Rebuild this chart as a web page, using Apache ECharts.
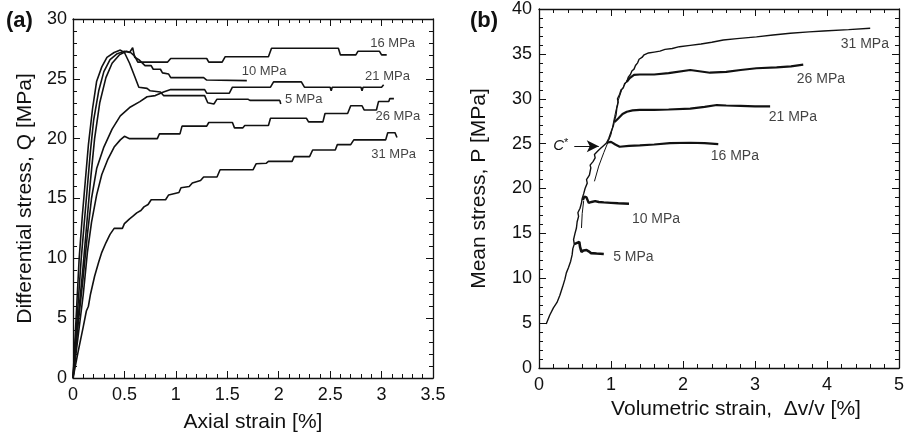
<!DOCTYPE html>
<html>
<head>
<meta charset="utf-8">
<script src="https://cdn.jsdelivr.net/npm/echarts@6/dist/echarts.min.js"></script>
<style>
  html, body { margin: 0; padding: 0; background: #fff; }
  #chart { width: 908px; height: 441px; }
</style>
</head>
<body>
<div id="chart"></div>
<script>
// ---- panel (a): axial strain [%] vs differential stress Q [MPa]
const a5 = [[0,0],[0.03,5],[0.06,10],[0.09,13.5],[0.12,16.5],[0.15,19.5],[0.19,22.5],[0.23,24.8],[0.28,26],[0.33,26.8],[0.4,27.2],[0.46,27.4],[0.5,27.2],[0.55,26.3],[0.6,25.2],[0.64,24.3],[0.72,24.2],[0.75,24.0],[0.85,23.9],[0.88,23.6],[1.28,23.6],[1.31,23.0],[1.37,22.9],[1.4,23.3],[1.7,23.3],[1.72,23.2],[2.01,23.2],[2.02,22.9]];
const a10 = [[0,0],[0.04,5],[0.08,10],[0.11,13],[0.14,16],[0.17,19],[0.2,21.5],[0.25,24],[0.3,25.6],[0.36,26.6],[0.43,27.1],[0.5,27.3],[0.55,27.2],[0.58,27.6],[0.6,26.8],[0.64,26.6],[0.7,26.1],[0.76,26.1],[0.78,25.8],[0.85,25.8],[0.87,25.5],[0.93,25.4],[0.95,25.1],[1.27,25.1],[1.3,24.9],[1.69,24.85]];
const a16 = [[0,0],[0.05,5],[0.1,9.5],[0.14,13.5],[0.17,16.5],[0.21,20],[0.26,23],[0.32,25.1],[0.38,26.3],[0.45,27],[0.52,27.3],[0.56,27.2],[0.6,26.9],[0.63,26.4],[0.92,26.4],[0.95,26.7],[1.3,26.7],[1.32,26.4],[1.45,26.4],[1.48,26.85],[1.9,26.85],[1.93,27.55],[2.58,27.55],[2.6,27.0],[2.75,27.0],[2.77,27.3],[2.98,27.3],[3.0,27.0],[3.05,27.0]];
const a21 = [[0,0],[0.05,4.5],[0.1,8.5],[0.14,12],[0.18,15],[0.23,17.5],[0.3,19.3],[0.38,20.8],[0.46,21.9],[0.55,22.6],[0.65,23.1],[0.72,23.5],[0.8,23.6],[0.88,23.9],[0.95,24.1],[1.28,24.1],[1.3,23.8],[1.52,23.8],[1.55,24.3],[1.92,24.3],[1.95,24.75],[2.22,24.75],[2.25,24.3],[2.5,24.3],[2.51,24.0],[2.52,24.3],[2.8,24.3],[2.81,24.0],[2.82,24.3],[3.0,24.3],[3.02,24.5]];
const a26 = [[0,0],[0.05,3.5],[0.1,7],[0.14,10.5],[0.18,13],[0.23,15.3],[0.28,17],[0.34,18.3],[0.4,19.3],[0.46,19.9],[0.5,20.2],[0.55,20.0],[0.82,20.0],[0.84,20.4],[1.04,20.4],[1.06,21.05],[1.3,21.05],[1.32,21.35],[1.55,21.35],[1.57,20.9],[1.65,20.9],[1.67,21.1],[1.9,21.1],[1.92,21.7],[2.27,21.7],[2.29,21.4],[2.43,21.4],[2.45,22.1],[2.67,22.1],[2.7,22.75],[2.81,22.75],[2.83,22.4],[2.95,22.4],[2.97,23.1],[3.07,23.1],[3.08,23.35],[3.12,23.35]];
const a31 = [[0,0],[0.05,2.2],[0.1,4.3],[0.13,5.6],[0.15,6],[0.17,7],[0.21,8.5],[0.25,9.7],[0.28,10.5],[0.32,11.3],[0.36,12],[0.4,12.5],[0.48,12.5],[0.5,12.9],[0.55,13.3],[0.58,13.5],[0.62,13.8],[0.66,14],[0.69,14.3],[0.73,14.5],[0.76,14.9],[0.9,14.9],[0.93,15.3],[1.03,15.5],[1.05,15.9],[1.13,16],[1.16,16.3],[1.24,16.5],[1.27,16.8],[1.4,16.8],[1.43,17.4],[1.75,17.4],[1.78,17.9],[1.88,17.95],[1.9,18.1],[2.13,18.1],[2.15,18.5],[2.3,18.5],[2.33,19.05],[2.55,19.05],[2.57,19.5],[2.7,19.5],[2.73,19.9],[3.04,19.9],[3.06,20.5],[3.13,20.5],[3.14,20.6],[3.15,20.1]];
const aLabels = [[2.89,27.96,'16 MPa'],[1.64,25.6,'10 MPa'],[2.84,25.2,'21 MPa'],[2.06,23.3,'5 MPa'],[2.94,21.9,'26 MPa'],[2.9,18.7,'31 MPa']];

// ---- panel (b): volumetric strain [%] vs mean stress P [MPa]
const bLoad = [[0.1,4.9],[0.15,5.9],[0.2,6.7],[0.25,7.3],[0.29,8.1],[0.33,9.1],[0.36,9.9],[0.38,10.6],[0.41,11.2],[0.42,11.0],[0.44,11.9],[0.46,12.6],[0.47,13.3],[0.49,13.8],[0.48,14.3],[0.5,15.0],[0.52,15.6],[0.53,16.3],[0.55,16.9],[0.54,17.3],[0.57,17.8],[0.59,18.4],[0.6,18.9],[0.62,19.4],[0.64,20.0],[0.67,20.6],[0.66,21.0],[0.7,21.5],[0.72,22.3],[0.71,22.6],[0.75,23.0],[0.78,23.4],[0.77,23.8],[0.82,24.2],[0.86,24.5],[0.9,24.8],[0.94,25.1],[0.97,25.6],[1.0,26.3],[1.03,26.9],[1.05,27.6],[1.07,28.2],[1.08,28.9],[1.1,29.6],[1.09,30.0],[1.12,30.5],[1.14,31.0],[1.17,31.2],[1.19,31.7],[1.22,31.9],[1.24,32.4],[1.27,32.7],[1.29,33.1],[1.32,33.3],[1.34,33.7],[1.37,34.0],[1.39,34.4],[1.43,34.6],[1.46,34.9],[1.52,35.1],[1.6,35.2],[1.68,35.3],[1.75,35.5],[1.85,35.6],[1.95,35.8],[2.1,35.95],[2.25,36.1],[2.4,36.3],[2.56,36.55],[2.75,36.7],[3.02,36.9],[3.25,37.1],[3.49,37.3],[3.75,37.45],[3.95,37.55],[4.3,37.7],[4.6,37.85]];
const bRef = [[0.59,15.6],[0.6,17.2],[0.62,18.6],null,[0.77,20.8],[0.83,22.5],[0.9,24.0],[0.96,25.2],[1.0,26.0],[1.05,28],[1.1,29.8],[1.15,31.0],[1.22,32.0],[1.3,32.6]];
const b5 = [[0.49,13.8],[0.51,14.0],[0.56,14.05],[0.57,13.5],[0.59,12.95],[0.62,13.1],[0.66,13.15],[0.69,13.0],[0.72,12.8],[0.8,12.75],[0.9,12.7]];
const b10 = [[0.61,18.7],[0.63,19.1],[0.66,19.0],[0.69,18.4],[0.73,18.5],[0.78,18.6],[0.83,18.5],[0.9,18.45],[1.0,18.4],[1.1,18.35],[1.25,18.3]];
const b16 = [[0.94,25.1],[1.0,25.2],[1.06,24.9],[1.12,24.65],[1.25,24.75],[1.4,24.8],[1.6,24.9],[1.82,25.05],[2.1,25.1],[2.3,25.05],[2.49,24.95]];
const b21 = [[1.05,27.4],[1.1,27.8],[1.16,28.3],[1.22,28.55],[1.3,28.7],[1.4,28.75],[1.6,28.75],[1.8,28.8],[2.1,28.9],[2.3,29.1],[2.47,29.3],[2.6,29.25],[2.8,29.2],[3.0,29.15],[3.21,29.15]];
const b26 = [[1.22,31.9],[1.26,32.3],[1.32,32.65],[1.4,32.7],[1.6,32.7],[1.8,32.85],[2.1,33.2],[2.375,32.9],[2.6,33.0],[2.8,33.2],[3.02,33.4],[3.3,33.5],[3.5,33.6],[3.67,33.8]];
const bLabels = [[4.19,36.07,'31 MPa'],[3.58,32.17,'26 MPa'],[3.19,27.93,'21 MPa'],[2.385,23.6,'16 MPa'],[1.29,16.6,'10 MPa'],[1.03,12.33,'5 MPa']];
const cStar = [[0.49,24.7],[0.83,24.7]];

const FONT = 'Liberation Sans, Arial, Helvetica, sans-serif';
const ink = '#111';

function xAx(grid, pos, min, max, interval, name, gap, pad) {
  return {
    type: 'value', gridIndex: grid, position: pos, min: min, max: max, interval: interval,
    name: name, nameLocation: 'middle', nameGap: gap,
    nameTextStyle: {fontFamily: FONT, fontSize: 21, color: ink, padding: pad || 0},
    axisLine: {show: true, onZero: false, lineStyle: {color: ink, width: 1.3}},
    axisTick: {show: true, inside: true, length: 7, lineStyle: {color: ink, width: 1}},
    minorTick: {show: true, splitNumber: 5, length: 4, lineStyle: {color: ink, width: 1}},
    axisLabel: {show: pos === 'bottom', margin: 8, fontFamily: FONT, fontSize: 18, color: ink},
    splitLine: {show: false}
  };
}
function yAx(grid, pos, min, max, interval, name, gap, margin) {
  return {
    type: 'value', gridIndex: grid, position: pos, min: min, max: max, interval: interval,
    name: name, nameLocation: 'middle', nameGap: gap,
    nameTextStyle: {fontFamily: FONT, fontSize: 21, color: ink},
    axisLine: {show: true, onZero: false, lineStyle: {color: ink, width: 1.3}},
    axisTick: {show: true, inside: true, length: 7, lineStyle: {color: ink, width: 1}},
    minorTick: {show: true, splitNumber: 5, length: 4, lineStyle: {color: ink, width: 1}},
    axisLabel: {show: pos === 'left', margin: margin, fontFamily: FONT, fontSize: 18, color: ink},
    splitLine: {show: false}
  };
}

function curve(data, xi, w) {
  return {
    type: 'line', xAxisIndex: xi, yAxisIndex: xi, data: data, showSymbol: false, symbol: 'none',
    connectNulls: false, lineStyle: {color: ink, width: w}, z: 3
  };
}
function labels(list, xi, size) {
  return {
    type: 'scatter', xAxisIndex: xi, yAxisIndex: xi, symbolSize: 0,
    data: list.map(d => ({value: [d[0], d[1]], name: d[2]})),
    label: {show: true, position: 'right', distance: 0, formatter: p => p.name,
      fontFamily: FONT, fontSize: size, color: ink},
    silent: true
  };
}

const chart = echarts.init(document.getElementById('chart'), null, {renderer: 'canvas'});

const series = [
  curve(a5, 0, 1.6), curve(a10, 0, 1.6), curve(a16, 0, 1.6),
  curve(a21, 0, 1.6), curve(a26, 0, 1.6), curve(a31, 0, 1.6),
  labels(aLabels, 0, 13),
  Object.assign(curve(bLoad, 2, 1.4), {
    markLine: {
      silent: true, symbol: ['none', 'arrow'], symbolSize: [9, 12],
      lineStyle: {type: 'solid', color: ink, width: 1},
      label: {show: true, position: 'start', distance: 6,
        formatter: '{c|C}{s|*}',
        rich: {
          c: {fontFamily: FONT, fontSize: 15, fontStyle: 'italic', color: ink},
          s: {fontFamily: FONT, fontSize: 11, color: ink, verticalAlign: 'top', padding: [0, 0, 6, 0]}
        }},
      data: [[{coord: cStar[0]}, {coord: cStar[1]}]]
    }
  }),
  curve(bRef, 2, 1),
  curve(b5, 2, 2.6), curve(b10, 2, 2.4), curve(b16, 2, 2.2),
  curve(b21, 2, 2.2), curve(b26, 2, 2.2),
  labels(bLabels, 2, 14)
];

chart.setOption({
  animation: false,
  backgroundColor: '#fff',
  grid: [
    {left: 73, top: 19, width: 360, height: 359},
    {left: 539, top: 9, width: 360, height: 359}
  ],
  xAxis: [
    xAx(0, 'bottom', 0, 3.5, 0.5, 'Axial strain [%]', 34),
    xAx(0, 'top', 0, 3.5, 0.5, '', 0),
    xAx(1, 'bottom', 0, 5, 1, 'Volumetric strain,  \u0394v/v [%]', 28, [0, 0, 0, 34]),
    xAx(1, 'top', 0, 5, 1, '', 0)
  ],
  yAxis: [
    yAx(0, 'left', 0, 30, 5, 'Differential stress, Q [MPa]', 37, 6),
    yAx(0, 'right', 0, 30, 5, '', 0, 6),
    yAx(1, 'left', 0, 40, 5, 'Mean stress, P [MPa]', 49, 7),
    yAx(1, 'right', 0, 40, 5, '', 0, 7)
  ],
  graphic: [
    {type: 'text', left: 6, top: 10, style: {text: '(a)', font: 'bold 22px ' + FONT, fill: ink}},
    {type: 'text', left: 470, top: 10, style: {text: '(b)', font: 'bold 22px ' + FONT, fill: ink}}
  ],
  series: series
});
</script>
</body>
</html>
